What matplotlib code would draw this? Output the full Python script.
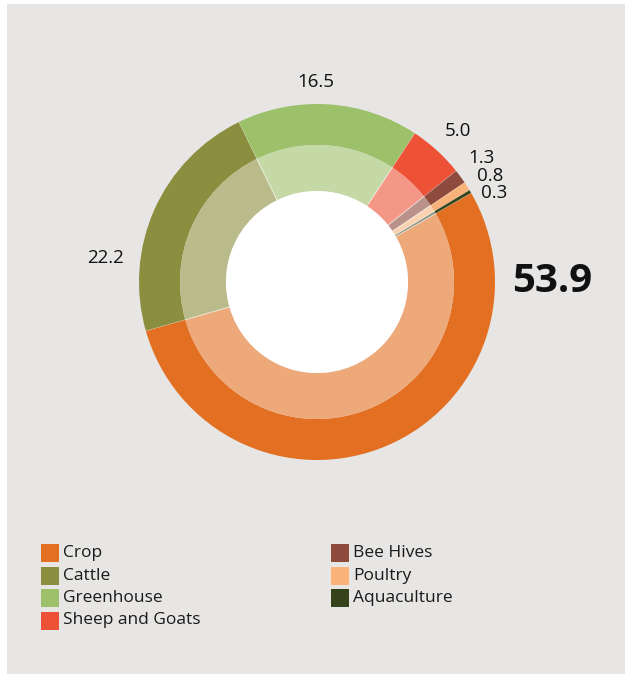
import matplotlib
matplotlib.use("Agg")
import matplotlib.pyplot as plt
from matplotlib.patches import Rectangle, Circle
from matplotlib.colors import to_rgb
import numpy as np

plt.rcParams['font.family'] = ['Open Sans', 'DejaVu Sans']

categories = ["Crop", "Cattle", "Greenhouse", "Sheep and Goats",
              "Bee Hives", "Poultry", "Aquaculture"]
shares = [53.9, 22.2, 16.5, 5.0, 1.3, 0.8, 0.3]
value_labels = ["53.9", "22.2", "16.5", "5.0", "1.3", "0.8", "0.3"]
colors = ["#E37022", "#8A8E3E", "#9DC06B", "#EE5236",
          "#8E4A3C", "#F9B27A", "#34431A"]

W, H = 627, 674
fig = plt.figure(figsize=(W / 100, H / 100), dpi=100)
fig.patch.set_facecolor("white")

# grey panel
fig.add_artist(Rectangle((7 / W, 0), (625 - 7) / W, (H - 4) / H,
                         transform=fig.transFigure, facecolor="#E7E6E4",
                         edgecolor="none", zorder=0))

# donut axes, 1 data unit = 1 pixel
cx, cy = 317, 282
half = 240
ax = fig.add_axes([(cx - half) / W, (H - cy - half) / H, 2 * half / W, 2 * half / H])
ax.set_xlim(-half, half)
ax.set_ylim(-half, half)
ax.set_aspect("equal")
ax.axis("off")

r_out, r_mid, r_in = 178, 137, 91
start = 30

def tint(c, a=0.6):
    rgb = np.array(to_rgb(c))
    return tuple(rgb * a + (1 - a))

ax.pie(shares, colors=colors, radius=r_out, startangle=start, counterclock=False,
       wedgeprops=dict(width=r_out - r_mid, edgecolor="none"))
ax.pie(shares, colors=[tint(c) for c in colors], radius=r_mid, startangle=start,
       counterclock=False, wedgeprops=dict(width=r_mid - r_in, edgecolor="none"))

# thin light separators between slices
bounds = start - 360 * np.cumsum([0] + shares[:-1]) / sum(shares)
for a in np.deg2rad(bounds):
    ca, sa = np.cos(a), np.sin(a)
    ax.plot([r_in * ca, r_mid * ca], [r_in * sa, r_mid * sa],
            color="white", alpha=0.6, lw=0.7, zorder=4)
    ax.plot([r_mid * ca, r_out * ca], [r_mid * sa, r_out * sa],
            color="white", alpha=0.3, lw=0.5, zorder=4)

ax.add_patch(Circle((0, 0), r_in, facecolor="white", edgecolor="none", zorder=5))
ax.set_xlim(-half, half)
ax.set_ylim(-half, half)

# value label offsets from the centre (pixels)
label_offsets = [(235, 0), (-212, 24), (-1, 200), (141, 151),
                 (164, 124), (173, 106), (177, 89)]
for i, (txt, (dx, dy)) in enumerate(zip(value_labels, label_offsets)):
    if i == 0:
        ax.text(dx, dy, txt, ha="center", va="center", fontsize=29,
                fontweight="bold", color="#111111")
    else:
        ax.text(dx, dy, txt, ha="center", va="center", fontsize=13.5,
                color="#111111")

# legend in two columns
col_x = [41, 331]
row_y0, row_step = 553, 22.5
sq = 18
for i, (name, c) in enumerate(zip(categories, colors)):
    col, row = divmod(i, 4)
    x = col_x[col]
    y = row_y0 + row * row_step
    fig.add_artist(Rectangle((x / W, (H - y - sq / 2) / H), sq / W, sq / H,
                             transform=fig.transFigure, facecolor=c,
                             edgecolor="none"))
    fig.text((x + sq + 4) / W, (H - y) / H, name, ha="left", va="center",
             fontsize=12.5, color="#1a1a1a")

fig.savefig("out.png", dpi=100)
